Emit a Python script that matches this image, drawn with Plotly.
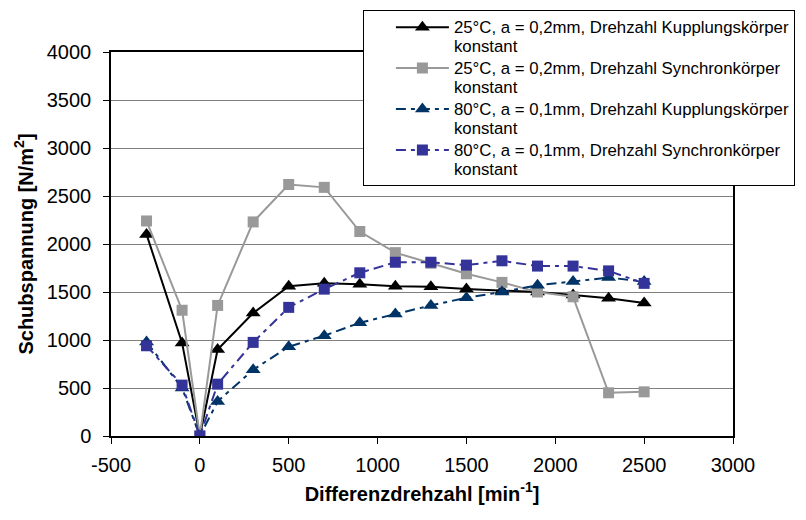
import plotly.graph_objects as go

# Differenzdrehzahl [min^-1]
drehzahl = [-300, -100, 0, 100, 300, 500, 700, 900, 1100, 1300, 1500, 1700, 1900, 2100, 2300, 2500]

# Schubspannung [N/m^2] per Versuchsreihe
kk_25 = [2100, 970, 0, 900, 1280, 1560, 1590, 1580, 1560, 1555, 1530, 1515, 1500, 1470, 1435, 1385]
sk_25 = [2240, 1310, 0, 1360, 2230, 2620, 2590, 2130, 1910, 1800, 1690, 1600, 1500, 1450, 450, 460]
kk_80 = [980, 500, 0, 360, 690, 930, 1045, 1180, 1270, 1360, 1440, 1500, 1570, 1610, 1650, 1610]
sk_80 = [940, 530, 0, 540, 975, 1340, 1530, 1700, 1810, 1810, 1780, 1825, 1770, 1770, 1720, 1590]

names = [
    "25°C, a = 0,2mm, Drehzahl Kupplungskörper<br>konstant",
    "25°C, a = 0,2mm, Drehzahl Synchronkörper<br>konstant",
    "80°C, a = 0,1mm, Drehzahl Kupplungskörper<br>konstant",
    "80°C, a = 0,1mm, Drehzahl Synchronkörper<br>konstant",
]

x_ticks = [-500, 0, 500, 1000, 1500, 2000, 2500, 3000]
y_ticks = [0, 500, 1000, 1500, 2000, 2500, 3000, 3500, 4000]

styles = [
    dict(data=kk_25, color="#000000", symbol="triangle-up", size=13, dash="solid"),
    dict(data=sk_25, color="#999999", symbol="square", size=11, dash="solid"),
    dict(data=kk_80, color="#003366", symbol="triangle-up", size=13, dash="10px,5px,4px,5px"),
    dict(data=sk_80, color="#333399", symbol="square", size=11, dash="10px,5px,4px,5px"),
]

# legend lines: base size sets the (tight) line pitch, the span sets the glyph size
legend_base = 14.6
legend_text = '<span style="font-size:16.8px">{}</span>'

fig = go.Figure()
for name, st in zip(names, styles):
    fig.add_trace(go.Scatter(
        x=drehzahl, y=st["data"], name=legend_text.format(name), mode="lines+markers",
        line=dict(color=st["color"], width=2, dash=st["dash"]),
        marker=dict(symbol=st["symbol"], size=st["size"], color=st["color"]),
    ))

font_family = "Liberation Sans, Arial, sans-serif"

fig.update_layout(
    width=806, height=520,
    margin=dict(l=111, r=73, t=52, b=84, autoexpand=False),
    paper_bgcolor="white", plot_bgcolor="white",
    font=dict(family=font_family, color="black", size=20),
    showlegend=True,
    legend=dict(
        x=0.405, y=1.109, xanchor="left", yanchor="top",
        bgcolor="white", bordercolor="black", borderwidth=1,
        font=dict(size=legend_base, family=font_family, color="black"),
        valign="top", itemwidth=53, indentation=27, tracegroupgap=0,
    ),
    xaxis=dict(
        range=[-500, 3000], tickvals=x_ticks, ticktext=[str(v) for v in x_ticks],
        showgrid=False, zeroline=False,
        showline=True, linecolor="black", linewidth=1.5, mirror=True,
        ticks="outside", ticklen=6, tickcolor="black",
        tickfont=dict(size=20), ticklabelstandoff=4,
        title=dict(text="<b>Differenzdrehzahl [min<sup>-1</sup>]</b>",
                   font=dict(size=20), standoff=12),
    ),
    yaxis=dict(
        range=[0, 4000], tickvals=y_ticks, ticktext=[str(v) for v in y_ticks],
        showgrid=True, gridcolor="#808080", gridwidth=1, zeroline=False,
        showline=True, linecolor="black", linewidth=1.5, mirror=True,
        ticks="outside", ticklen=6, tickcolor="black",
        tickfont=dict(size=20), ticklabelstandoff=8,
        title=dict(text="<b>Schubspannung [N/m<sup>2</sup>]</b>",
                   font=dict(size=20), standoff=8),
    ),
)

fig.write_html("out.html")
